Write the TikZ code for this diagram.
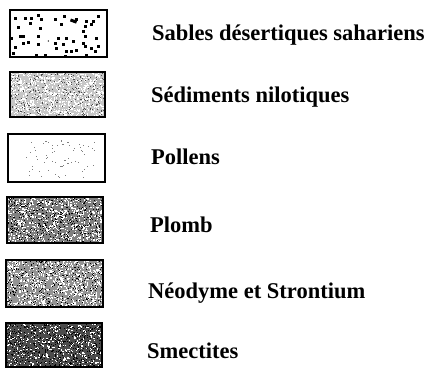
\documentclass[tikz,border=0pt]{standalone}
\usepackage{fontspec}
\setmainfont{Liberation Serif}
\newcommand\speck[7]{%
  \foreach \k in {1,...,#5}{\fill[#6] ({#1+rnd*(#3-#1-#7)},{#2+rnd*(#4-#2-#7)}) rectangle ++(#7,#7);}}
\tikzset{
  legbox/.style={draw=black, line width=1.6pt, inner sep=0pt},
  legtext/.style={anchor=base west, inner sep=0pt, font=\fontsize{22.5}{26}\selectfont\bfseries}
}
\begin{document}
\begin{tikzpicture}[x=1pt,y=-1pt]
\useasboundingbox[fill=white] (0,0) rectangle (430,369);
\pgfmathsetseed{4711}
% box 1: sparse black blobs
\foreach \bx/\by in {15/18.3,25.7/19,31.7/19,38.3/15.7,41/20,55/20,64.3/16.7,
  76.7/20,86.7/21.7,93.3/21.7,98.3/16.7,18.3/27.7,30/23.3,40/28.3,61.7/24.3,
  85/26.7,91.7/25,11.7/38.3,20/36.7,23.3/36.7,38.3/36.7,58.3/38.3,66.7/38.3,
  83.3/31.7,85/36.7,96.7/38.3,15/47.7,23.3/43.3,28.3/42.3,38.3/45,55/43.3,
  63.3/45,73.3/41.7,83.3/43.3,85/46.7,91.7/48.3,98.3/46.7,13.3/53.3,36.7/55,
  45/55,56.7/48.3,66.7/51.7,71.7/51.7,76.7/50,86.7/55,95/51.7,65/56}
  {\fill[black] (\bx-1.5,\by-1.5) rectangle ++(3.2,3);}
\fill[black, rotate around={-20:(73.3,21)}] (70.3,19.5) rectangle ++(6.5,3);
\fill[black] (48.3,41) circle (0.7);
% box 2: light stipple
\fill[black!22] (10,72) rectangle (105,117);
\speck{10}{72}{105}{117}{750}{white}{1.3}
\speck{10}{72}{105}{117}{300}{black!70}{1}
% box 3: sparse tiny dots
\speck{22}{140}{95}{178}{70}{black!50}{0.9}
% box 4: medium-dark
\fill[black!50] (7,197) rectangle (103,243);
\speck{7}{197}{103}{243}{650}{white}{1.3}
\speck{7}{197}{103}{243}{450}{black}{1}
% box 5: medium
\fill[black!42] (6,260) rectangle (103,307);
\speck{6}{260}{103}{307}{750}{white}{1.3}
\speck{6}{260}{103}{307}{350}{black}{1}
% box 6: dark
\fill[black!70] (6,323) rectangle (102,367);
\speck{6}{323}{102}{367}{450}{white}{1.2}
\speck{6}{323}{102}{367}{550}{black}{1}
% frames
\node[legbox, minimum width=97pt, minimum height=47pt] (b1) at (58.5,33.5) {};
\node[legbox, minimum width=95pt, minimum height=45pt] (b2) at (57.5,94.5) {};
\node[legbox, minimum width=97pt, minimum height=48pt] (b3) at (56.5,158) {};
\node[legbox, minimum width=96pt, minimum height=46pt] (b4) at (55,220) {};
\node[legbox, minimum width=97pt, minimum height=47pt] (b5) at (54.5,283.5) {};
\node[legbox, minimum width=96pt, minimum height=44pt] (b6) at (54,345) {};
% labels
\node[legtext] (t1) at (152,41) {Sables désertiques sahariens};
\node[legtext] (t2) at (151,102) {Sédiments nilotiques};
\node[legtext] (t3) at (151,164) {Pollens};
\node[legtext] (t4) at (150,232) {Plomb};
\node[legtext] (t5) at (148,298) {Néodyme et Strontium};
\node[legtext] (t6) at (147,358) {Smectites};
\end{tikzpicture}
\end{document}
